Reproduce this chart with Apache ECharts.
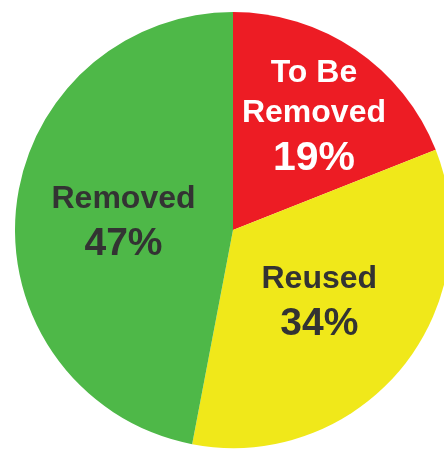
<!DOCTYPE html>
<html>
<head>
<meta charset="utf-8">
<script src="https://cdn.jsdelivr.net/npm/echarts@6/dist/echarts.min.js"></script>
<style>
html,body{margin:0;padding:0;background:#fff;}
#chart{width:444px;height:449px;}
</style>
</head>
<body>
<div id="chart"></div>
<script>
const categories = ['To Be Removed', 'Reused', 'Removed'];
const labelLines = [['To Be', 'Removed'], ['Reused'], ['Removed']];
const values = [19, 34, 47];
const colors = ['#ED1C24', '#F0E81A', '#4EB848'];
const textColors = ['#ffffff', '#333333', '#333333'];
const labelOffsets = [[18, -19], [0, 3], [2, 5]];

const chart = echarts.init(document.getElementById('chart'), null, {renderer: 'canvas'});
const data = categories.map((c, i) => ({
  name: c,
  value: values[i],
  itemStyle: {color: colors[i]},
  label: {
    color: textColors[i],
    offset: labelOffsets[i],
    rich: {
      name: {fontFamily: 'Liberation Sans', fontWeight: 'bold', fontSize: 32, lineHeight: 40, color: textColors[i]},
      pct: {fontFamily: 'Liberation Sans', fontWeight: 'bold', fontSize: i === 0 ? 41 : 39, lineHeight: 50, color: textColors[i]}
    }
  }
}));

chart.setOption({
  backgroundColor: '#ffffff',
  animation: false,
  series: [{
    type: 'pie',
    center: [233, 230],
    radius: 218,
    startAngle: 90,
    clockwise: true,
    avoidLabelOverlap: false,
    itemStyle: {borderWidth: 0},
    emphasis: {disabled: true},
    label: {
      show: true,
      position: 'inside',
      align: 'center',
      formatter: function (p) {
        const lines = labelLines[p.dataIndex].map(t => '{name|' + t + '}');
        lines.push('{pct|' + p.value + '%}');
        return lines.join('\n');
      }
    },
    labelLine: {show: false},
    data: data
  }]
});
</script>
</body>
</html>
